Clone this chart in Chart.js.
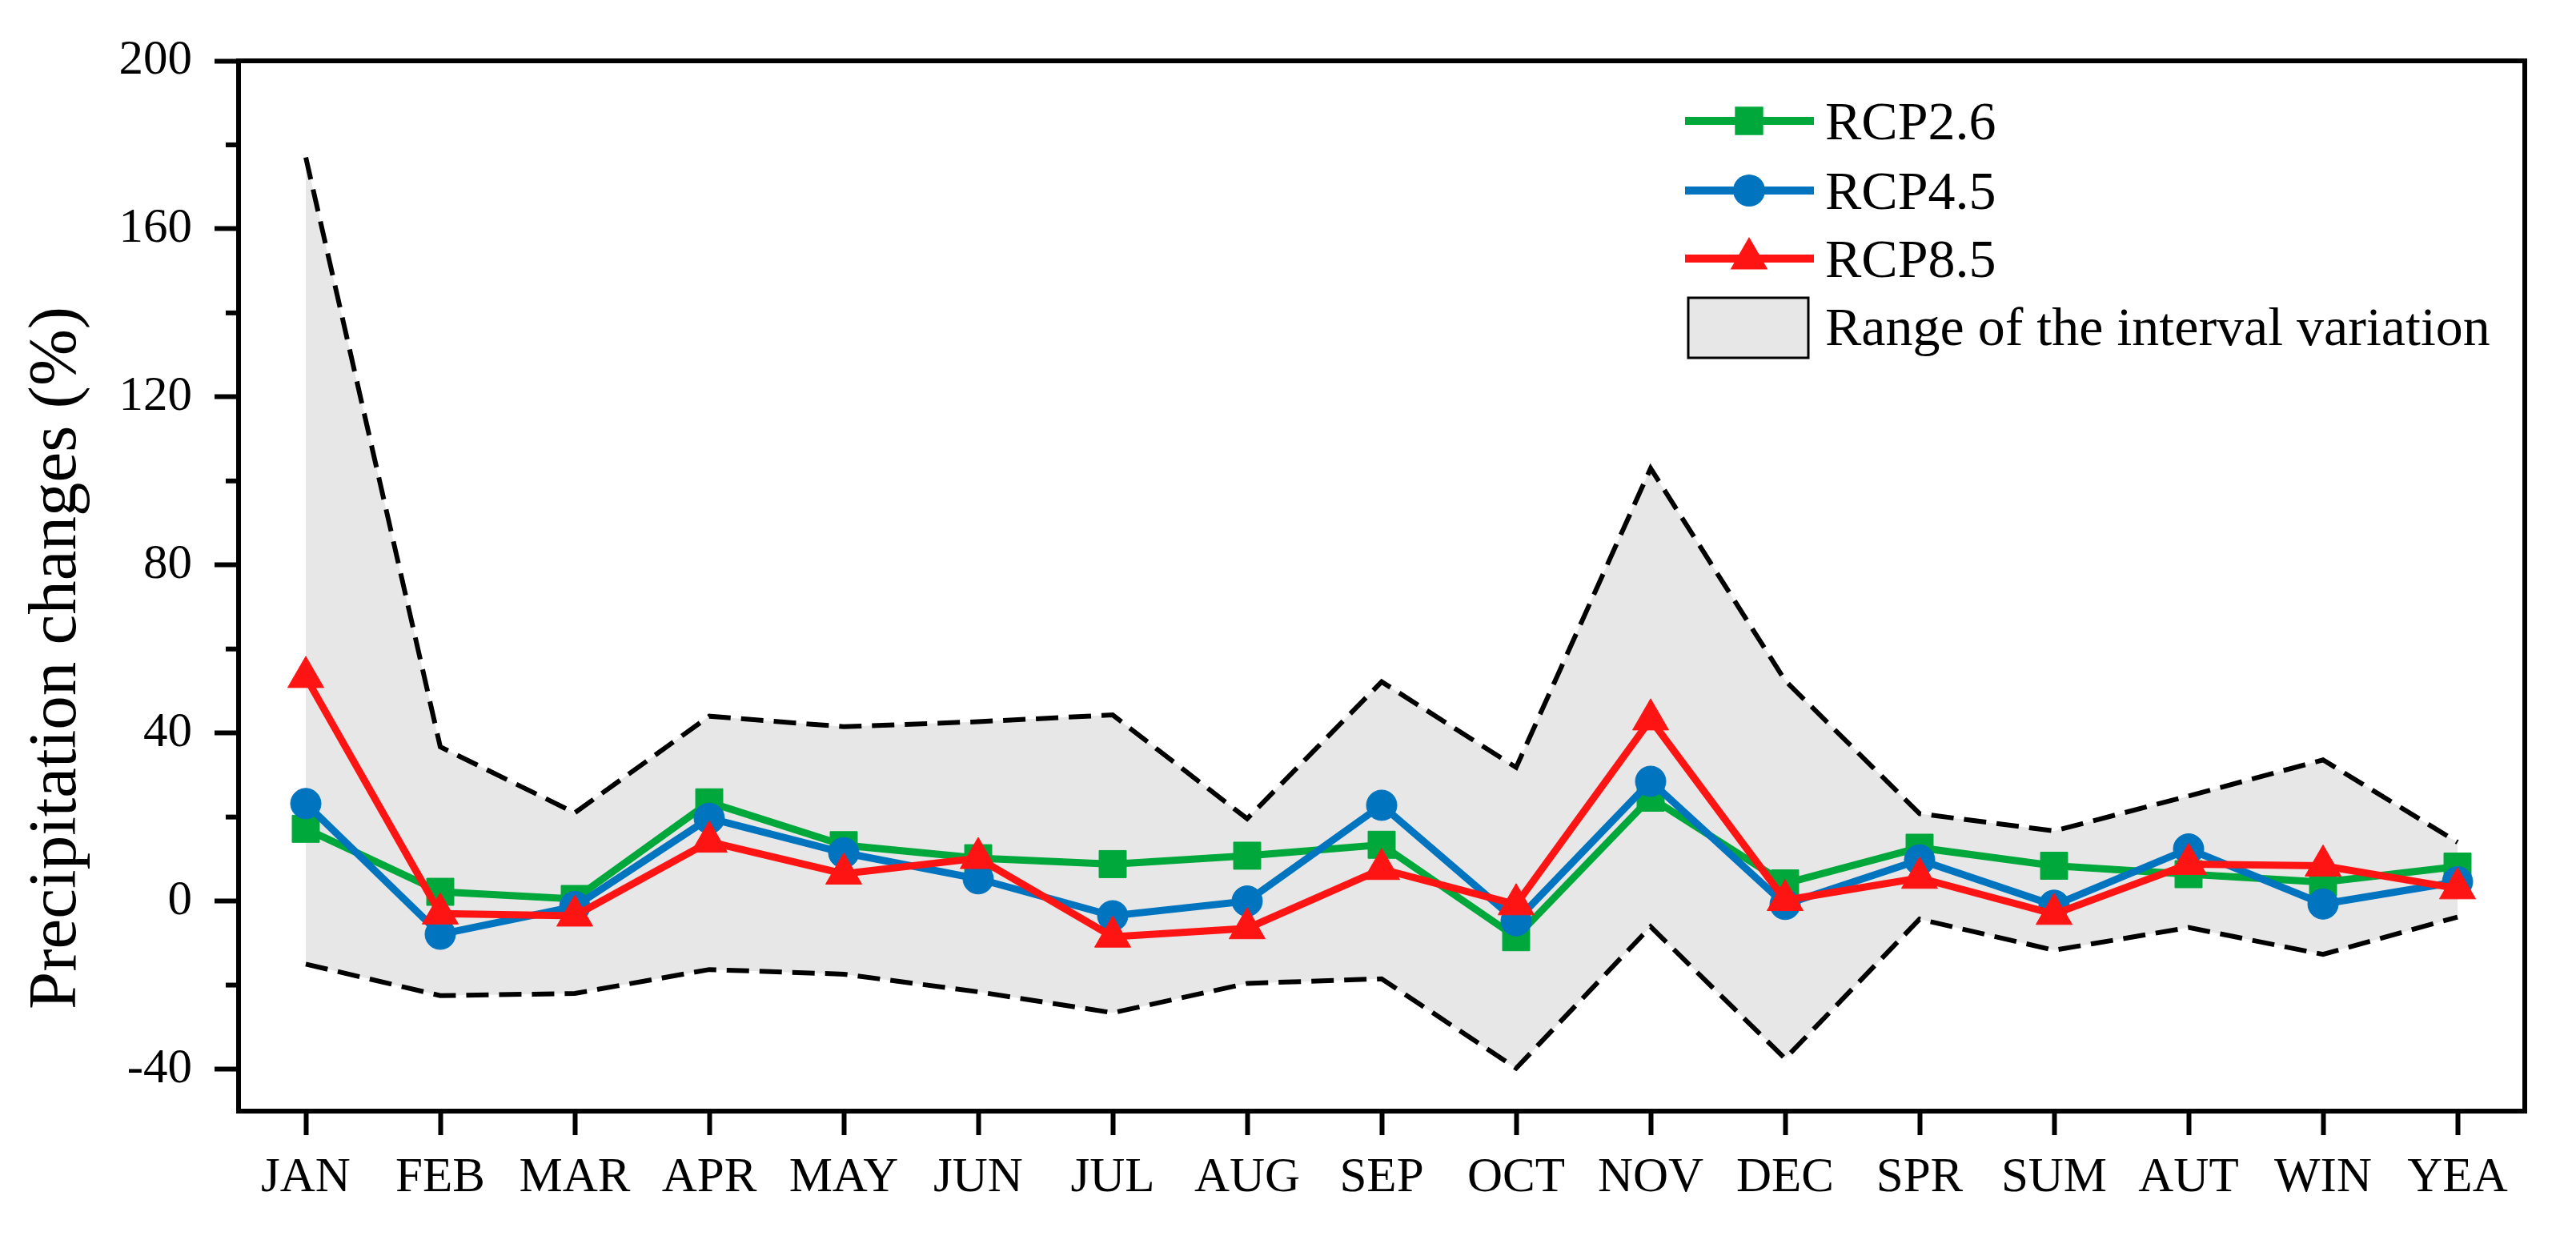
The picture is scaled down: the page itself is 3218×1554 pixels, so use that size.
<!DOCTYPE html>
<html>
<head>
<meta charset="utf-8">
<script src="https://cdn.jsdelivr.net/npm/chart.js@4.4.1/dist/chart.umd.min.js"></script>
<style>
html,body{margin:0;padding:0;background:#ffffff;}
canvas{display:block;}
</style>
</head>
<body>
<canvas id="c" width="3218" height="1554"></canvas>
<script>
// ---------- data ----------
const categories = ['JAN','FEB','MAR','APR','MAY','JUN','JUL','AUG','SEP','OCT','NOV','DEC','SPR','SUM','AUT','WIN','YEA'];
const rcp26 = [17.2, 2.2, 0.5, 23.5, 13.3, 10.2, 8.8, 10.8, 13.4, -8.6, 24.6, 4.2, 12.7, 8.4, 6.4, 4.5, 8.2];
const rcp45 = [23.2, -7.9, -1.3, 19.7, 11.5, 5.3, -3.5, 0.0, 22.8, -4.7, 28.5, -0.8, 9.8, -1.0, 12.4, -0.7, 4.6];
const rcp85 = [53.3, -3.0, -3.5, 14.1, 6.5, 10.2, -8.5, -6.5, 7.6, -0.8, 43.2, 0.2, 5.5, -3.1, 8.8, 8.4, 3.0];
const rangeUpper = [177, 36.7, 21, 44, 41.5, 42.7, 44.3, 19.6, 52.2, 31.8, 103, 52.5, 20.8, 16.7, 25, 33.6, 14];
const rangeLower = [-15, -22.5, -22, -16.3, -17.4, -21.6, -26.6, -19.6, -18.5, -39.8, -6.1, -37.5, -4.3, -11.7, -6.3, -12.7, -3.8];
const yMajorTicks = [-40, 0, 40, 80, 120, 160, 200];
const yMinorTicks = [-20, 20, 60, 100, 140, 180];
const seriesNames = ['RCP2.6', 'RCP4.5', 'RCP8.5'];
const rangeName = 'Range of the interval variation';
const yTitle = 'Precipitation changes (%)';

// ---------- styles ----------
const FONT = '"Liberation Serif", "Times New Roman", serif';
const GREEN = '#00A83C';
const BLUE = '#0074BE';
const RED = '#FF1414';
const GRAY = '#e7e7e7';

function drawMarker(ctx, style, r, x, y, color) {
  ctx.save();
  ctx.fillStyle = color;
  ctx.beginPath();
  if (style === 'rect') {
    const s = r * Math.SQRT1_2;
    ctx.rect(x - s, y - s, 2 * s, 2 * s);
  } else if (style === 'circle') {
    ctx.arc(x, y, r, 0, Math.PI * 2);
  } else if (style === 'triangle') {
    for (let k = 0; k < 3; k++) {
      const a = k * 2 * Math.PI / 3;
      const px = x + Math.sin(a) * r, py = y - Math.cos(a) * r;
      if (k === 0) ctx.moveTo(px, py); else ctx.lineTo(px, py);
    }
    ctx.closePath();
  }
  ctx.fill();
  ctx.restore();
}

const decorPlugin = {
  id: 'decor',
  afterDraw(chart) {
    const ctx = chart.ctx;
    const a = chart.chartArea;
    const ys = chart.scales.y;
    ctx.save();
    // top and right frame lines
    ctx.strokeStyle = '#000';
    ctx.lineWidth = 6;
    ctx.beginPath();
    ctx.moveTo(a.left - 3, a.top);
    ctx.lineTo(a.right, a.top);
    ctx.lineTo(a.right, a.bottom + 3);
    ctx.stroke();
    // minor ticks on y axis
    ctx.lineWidth = 6;
    yMinorTicks.forEach(v => {
      const py = ys.getPixelForValue(v);
      ctx.beginPath();
      ctx.moveTo(a.left - 16, py);
      ctx.lineTo(a.left, py);
      ctx.stroke();
    });
    // y-axis title
    ctx.save();
    ctx.translate(94, (a.top + a.bottom) / 2 + 90);
    ctx.rotate(-Math.PI / 2);
    ctx.fillStyle = '#000';
    ctx.font = '85px ' + FONT;
    ctx.textAlign = 'center';
    ctx.textBaseline = 'alphabetic';
    ctx.fillText(yTitle, 0, 0);
    ctx.restore();
    // legend
    const ds = chart.data.datasets;
    const lx0 = a.right - 1049, lx1 = a.right - 888, mx = a.right - 969, tx = a.right - 874;
    const rowY = [a.top + 75, a.top + 162, a.top + 247];
    const markR = [25, 20, 27];
    ctx.font = '68px ' + FONT;
    ctx.textAlign = 'left';
    ctx.textBaseline = 'alphabetic';
    for (let i = 0; i < 3; i++) {
      const d = ds[i];
      ctx.strokeStyle = d.borderColor;
      ctx.lineWidth = 10;
      ctx.setLineDash([]);
      ctx.beginPath();
      ctx.moveTo(lx0, rowY[i]);
      ctx.lineTo(lx1, rowY[i]);
      ctx.stroke();
      drawMarker(ctx, d.pointStyle, markR[i], mx, rowY[i], d.borderColor);
      ctx.fillStyle = '#000';
      ctx.fillText(d.label, tx, rowY[i] + 23);
    }
    // range box
    const bx = a.right - 1045, by = a.top + 296, bw = 150, bh = 75;
    ctx.fillStyle = ds[3].backgroundColor;
    ctx.fillRect(bx, by, bw, bh);
    ctx.strokeStyle = '#000';
    ctx.lineWidth = 3;
    ctx.strokeRect(bx, by, bw, bh);
    ctx.fillStyle = '#000';
    ctx.fillText(ds[3].label, tx, a.top + 355);
    ctx.restore();
  }
};

const bandStyle = {
  borderColor: '#000000',
  borderWidth: 6,
  borderDash: [28, 13],
  pointRadius: 0,
  pointHoverRadius: 0,
  tension: 0
};

new Chart(document.getElementById('c'), {
  type: 'line',
  data: {
    labels: categories,
    datasets: [
      { label: seriesNames[0], data: rcp26, borderColor: GREEN, backgroundColor: GREEN,
        borderWidth: 9, pointStyle: 'rect', pointRadius: 24, pointBackgroundColor: GREEN,
        pointBorderColor: GREEN, pointBorderWidth: 1, fill: false, order: 2 },
      { label: seriesNames[1], data: rcp45, borderColor: BLUE, backgroundColor: BLUE,
        borderWidth: 9, pointStyle: 'circle', pointRadius: 19, pointBackgroundColor: BLUE,
        pointBorderColor: BLUE, pointBorderWidth: 1, fill: false, order: 1 },
      { label: seriesNames[2], data: rcp85, borderColor: RED, backgroundColor: RED,
        borderWidth: 9, pointStyle: 'triangle', pointRadius: 26, pointBackgroundColor: RED,
        pointBorderColor: RED, pointBorderWidth: 1, fill: false, order: 0 },
      Object.assign({ label: rangeName, data: rangeUpper, fill: '+1', backgroundColor: GRAY, order: 4 }, bandStyle),
      Object.assign({ label: 'lower', data: rangeLower, fill: false, backgroundColor: GRAY, order: 3 }, bandStyle)
    ]
  },
  options: {
    responsive: false,
    devicePixelRatio: 1,
    animation: false,
    layout: { padding: { top: 76, right: 64, left: 0, bottom: 0 } },
    plugins: {
      legend: { display: false },
      tooltip: { enabled: false },
      filler: { drawTime: 'beforeDatasetsDraw' }
    },
    scales: {
      x: {
        type: 'category',
        offset: true,
        grid: { display: true, drawOnChartArea: false, drawTicks: true, tickLength: 30, tickWidth: 6, tickColor: '#000' },
        border: { display: true, color: '#000', width: 6 },
        ticks: { color: '#000', font: { family: FONT, size: 61 }, padding: 17, autoSkip: false, maxRotation: 0 },
        afterFit(s) { s.height = 166; }
      },
      y: {
        type: 'linear',
        min: -50,
        max: 200,
        afterBuildTicks(s) { s.ticks = yMajorTicks.map(v => ({ value: v })); },
        grid: { display: true, drawOnChartArea: false, drawTicks: true, tickLength: 30, tickWidth: 6, tickColor: '#000' },
        border: { display: true, color: '#000', width: 6 },
        ticks: { color: '#000', font: { family: FONT, size: 61 }, padding: 28 },
        afterFit(s) { s.width = 298; }
      }
    }
  },
  plugins: [decorPlugin]
});
</script>
</body>
</html>
